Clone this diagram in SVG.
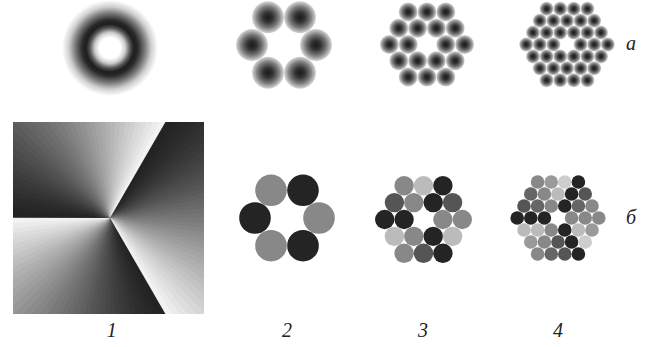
<svg xmlns="http://www.w3.org/2000/svg" xmlns:xlink="http://www.w3.org/1999/xlink" width="651" height="347" viewBox="0 0 651 347">
<style>
.lbl{font-family:"Liberation Serif","Times New Roman",serif;font-style:italic;font-size:20px;fill:#222;text-anchor:middle}
.s{fill:url(#spotG)}
.k{fill:#242424}.d{fill:#555}.e{fill:#666}.m{fill:#888}.n{fill:#9a9a9a}.l{fill:#bbb}.p{fill:#cdcdcd}
</style>
<defs>
<radialGradient id="ringG">
<stop offset="0" stop-color="#fff"/>
<stop offset="0.22" stop-color="#fff"/>
<stop offset="0.32" stop-color="#ccc"/>
<stop offset="0.42" stop-color="#555"/>
<stop offset="0.5" stop-color="#1e1e1e"/>
<stop offset="0.58" stop-color="#2a2a2a"/>
<stop offset="0.72" stop-color="#777"/>
<stop offset="0.86" stop-color="#d0d0d0"/>
<stop offset="1" stop-color="#fff"/>
</radialGradient>
<radialGradient id="spotG">
<stop offset="0" stop-color="#1a1a1a"/>
<stop offset="0.3" stop-color="#333"/>
<stop offset="0.65" stop-color="#777"/>
<stop offset="0.9" stop-color="#bbb"/>
<stop offset="1" stop-color="#dadada"/>
</radialGradient>
<clipPath id="sq"><rect x="13" y="122" width="191" height="192"/></clipPath>
<path id="w" d="M0 0 L300 0 L298.86 26.15 Z"/>
<path id="wl" d="M0 0 L300 0 L299.56 16.22 Z"/>
<g id="sector">
<use xlink:href="#w" transform="rotate(180)" fill="#232323"/>
<use xlink:href="#w" transform="rotate(183)" fill="#252525"/>
<use xlink:href="#w" transform="rotate(186)" fill="#282828"/>
<use xlink:href="#w" transform="rotate(189)" fill="#2b2b2b"/>
<use xlink:href="#w" transform="rotate(192)" fill="#2e2e2e"/>
<use xlink:href="#w" transform="rotate(195)" fill="#323232"/>
<use xlink:href="#w" transform="rotate(198)" fill="#363636"/>
<use xlink:href="#w" transform="rotate(201)" fill="#3a3a3a"/>
<use xlink:href="#w" transform="rotate(204)" fill="#3e3e3e"/>
<use xlink:href="#w" transform="rotate(207)" fill="#434343"/>
<use xlink:href="#w" transform="rotate(210)" fill="#474747"/>
<use xlink:href="#w" transform="rotate(213)" fill="#4c4c4c"/>
<use xlink:href="#w" transform="rotate(216)" fill="#505050"/>
<use xlink:href="#w" transform="rotate(219)" fill="#555"/>
<use xlink:href="#w" transform="rotate(222)" fill="#5a5a5a"/>
<use xlink:href="#w" transform="rotate(225)" fill="#606060"/>
<use xlink:href="#w" transform="rotate(228)" fill="#656565"/>
<use xlink:href="#w" transform="rotate(231)" fill="#6a6a6a"/>
<use xlink:href="#w" transform="rotate(234)" fill="#6f6f6f"/>
<use xlink:href="#w" transform="rotate(237)" fill="#757575"/>
<use xlink:href="#w" transform="rotate(240)" fill="#7a7a7a"/>
<use xlink:href="#w" transform="rotate(243)" fill="#808080"/>
<use xlink:href="#w" transform="rotate(246)" fill="#868686"/>
<use xlink:href="#w" transform="rotate(249)" fill="#8c8c8c"/>
<use xlink:href="#w" transform="rotate(252)" fill="#929292"/>
<use xlink:href="#w" transform="rotate(255)" fill="#989898"/>
<use xlink:href="#w" transform="rotate(258)" fill="#9e9e9e"/>
<use xlink:href="#w" transform="rotate(261)" fill="#a4a4a4"/>
<use xlink:href="#w" transform="rotate(264)" fill="#aaa"/>
<use xlink:href="#w" transform="rotate(267)" fill="#b0b0b0"/>
<use xlink:href="#w" transform="rotate(270)" fill="#b6b6b6"/>
<use xlink:href="#w" transform="rotate(273)" fill="#bdbdbd"/>
<use xlink:href="#w" transform="rotate(276)" fill="#c3c3c3"/>
<use xlink:href="#w" transform="rotate(279)" fill="#cacaca"/>
<use xlink:href="#w" transform="rotate(282)" fill="#d0d0d0"/>
<use xlink:href="#w" transform="rotate(285)" fill="#d7d7d7"/>
<use xlink:href="#w" transform="rotate(288)" fill="#ddd"/>
<use xlink:href="#w" transform="rotate(291)" fill="#e4e4e4"/>
<use xlink:href="#w" transform="rotate(294)" fill="#ebebeb"/>
<use xlink:href="#wl" transform="rotate(297)" fill="#f2f2f2"/>
</g>
</defs>
<rect width="651" height="347" fill="#fff"/>

<g id="ring-1a">
<circle cx="110" cy="48" r="48" fill="url(#ringG)"/>
</g>

<g id="spots-2a">
<circle class="s" cx="268" cy="17.3" r="16"/>
<circle class="s" cx="300" cy="17.3" r="16"/>
<circle class="s" cx="252" cy="45" r="16"/>
<circle class="s" cx="316" cy="45" r="16"/>
<circle class="s" cx="268" cy="72.7" r="16"/>
<circle class="s" cx="300" cy="72.7" r="16"/>
</g>

<g id="spots-3a">
<circle class="s" cx="408.2" cy="11.9" r="9.5"/>
<circle class="s" cx="427" cy="11.9" r="9.5"/>
<circle class="s" cx="445.8" cy="11.9" r="9.5"/>
<circle class="s" cx="398.8" cy="28.2" r="9.5"/>
<circle class="s" cx="417.6" cy="28.2" r="9.5"/>
<circle class="s" cx="436.4" cy="28.2" r="9.5"/>
<circle class="s" cx="455.2" cy="28.2" r="9.5"/>
<circle class="s" cx="389.4" cy="44.5" r="9.5"/>
<circle class="s" cx="408.2" cy="44.5" r="9.5"/>
<circle class="s" cx="445.8" cy="44.5" r="9.5"/>
<circle class="s" cx="464.6" cy="44.5" r="9.5"/>
<circle class="s" cx="398.8" cy="60.8" r="9.5"/>
<circle class="s" cx="417.6" cy="60.8" r="9.5"/>
<circle class="s" cx="436.4" cy="60.8" r="9.5"/>
<circle class="s" cx="455.2" cy="60.8" r="9.5"/>
<circle class="s" cx="408.2" cy="77.1" r="9.5"/>
<circle class="s" cx="427" cy="77.1" r="9.5"/>
<circle class="s" cx="445.8" cy="77.1" r="9.5"/>
</g>

<g id="spots-4a">
<circle class="s" cx="546.6" cy="8.8" r="7"/>
<circle class="s" cx="560.2" cy="8.8" r="7"/>
<circle class="s" cx="573.8" cy="8.8" r="7"/>
<circle class="s" cx="587.4" cy="8.8" r="7"/>
<circle class="s" cx="539.8" cy="20.7" r="7"/>
<circle class="s" cx="553.4" cy="20.7" r="7"/>
<circle class="s" cx="567" cy="20.7" r="7"/>
<circle class="s" cx="580.6" cy="20.7" r="7"/>
<circle class="s" cx="594.2" cy="20.7" r="7"/>
<circle class="s" cx="533" cy="32.6" r="7"/>
<circle class="s" cx="546.6" cy="32.6" r="7"/>
<circle class="s" cx="560.2" cy="32.6" r="7"/>
<circle class="s" cx="573.8" cy="32.6" r="7"/>
<circle class="s" cx="587.4" cy="32.6" r="7"/>
<circle class="s" cx="601" cy="32.6" r="7"/>
<circle class="s" cx="526.2" cy="44.5" r="7"/>
<circle class="s" cx="539.8" cy="44.5" r="7"/>
<circle class="s" cx="553.4" cy="44.5" r="7"/>
<circle class="s" cx="580.6" cy="44.5" r="7"/>
<circle class="s" cx="594.2" cy="44.5" r="7"/>
<circle class="s" cx="607.8" cy="44.5" r="7"/>
<circle class="s" cx="533" cy="56.4" r="7"/>
<circle class="s" cx="546.6" cy="56.4" r="7"/>
<circle class="s" cx="560.2" cy="56.4" r="7"/>
<circle class="s" cx="573.8" cy="56.4" r="7"/>
<circle class="s" cx="587.4" cy="56.4" r="7"/>
<circle class="s" cx="601" cy="56.4" r="7"/>
<circle class="s" cx="539.8" cy="68.3" r="7"/>
<circle class="s" cx="553.4" cy="68.3" r="7"/>
<circle class="s" cx="567" cy="68.3" r="7"/>
<circle class="s" cx="580.6" cy="68.3" r="7"/>
<circle class="s" cx="594.2" cy="68.3" r="7"/>
<circle class="s" cx="546.6" cy="80.2" r="7"/>
<circle class="s" cx="560.2" cy="80.2" r="7"/>
<circle class="s" cx="573.8" cy="80.2" r="7"/>
<circle class="s" cx="587.4" cy="80.2" r="7"/>
</g>

<g id="phase-1b" clip-path="url(#sq)">
<g transform="translate(110 218)">
<use xlink:href="#sector"/>
<use xlink:href="#sector" transform="rotate(120)"/>
<use xlink:href="#sector" transform="rotate(240)"/>
</g>
</g>

<g id="discs-2b">
<circle class="m" cx="271" cy="190.3" r="15.8"/>
<circle class="k" cx="303" cy="190.3" r="15.8"/>
<circle class="k" cx="255" cy="218" r="15.8"/>
<circle class="m" cx="319" cy="218" r="15.8"/>
<circle class="m" cx="271" cy="245.7" r="15.8"/>
<circle class="k" cx="303" cy="245.7" r="15.8"/>
</g>

<g id="discs-3b">
<circle class="m" cx="404.1" cy="185.7" r="9.7"/>
<circle class="l" cx="423.5" cy="185.7" r="9.7"/>
<circle class="k" cx="442.9" cy="185.7" r="9.7"/>
<circle class="d" cx="394.4" cy="202.6" r="9.7"/>
<circle class="m" cx="413.8" cy="202.6" r="9.7"/>
<circle class="k" cx="433.2" cy="202.6" r="9.7"/>
<circle class="d" cx="452.6" cy="202.6" r="9.7"/>
<circle class="k" cx="384.7" cy="219.5" r="9.7"/>
<circle class="k" cx="404.1" cy="219.5" r="9.7"/>
<circle class="m" cx="442.9" cy="219.5" r="9.7"/>
<circle class="m" cx="462.3" cy="219.5" r="9.7"/>
<circle class="l" cx="394.4" cy="236.4" r="9.7"/>
<circle class="m" cx="413.8" cy="236.4" r="9.7"/>
<circle class="k" cx="433.2" cy="236.4" r="9.7"/>
<circle class="l" cx="452.6" cy="236.4" r="9.7"/>
<circle class="m" cx="404.1" cy="253.3" r="9.7"/>
<circle class="d" cx="423.5" cy="253.3" r="9.7"/>
<circle class="k" cx="442.9" cy="253.3" r="9.7"/>
</g>

<g id="discs-4b">
<circle class="m" cx="537.6" cy="182" r="6.8"/>
<circle class="n" cx="551.2" cy="182" r="6.8"/>
<circle class="p" cx="564.8" cy="182" r="6.8"/>
<circle class="k" cx="578.4" cy="182" r="6.8"/>
<circle class="e" cx="530.8" cy="194" r="6.8"/>
<circle class="m" cx="544.4" cy="194" r="6.8"/>
<circle class="l" cx="558" cy="194" r="6.8"/>
<circle class="k" cx="571.6" cy="194" r="6.8"/>
<circle class="d" cx="585.2" cy="194" r="6.8"/>
<circle class="d" cx="524" cy="206" r="6.8"/>
<circle class="e" cx="537.6" cy="206" r="6.8"/>
<circle class="m" cx="551.2" cy="206" r="6.8"/>
<circle class="k" cx="564.8" cy="206" r="6.8"/>
<circle class="e" cx="578.4" cy="206" r="6.8"/>
<circle class="m" cx="592" cy="206" r="6.8"/>
<circle class="k" cx="517.2" cy="218" r="6.8"/>
<circle class="k" cx="530.8" cy="218" r="6.8"/>
<circle class="k" cx="544.4" cy="218" r="6.8"/>
<circle class="m" cx="571.6" cy="218" r="6.8"/>
<circle class="m" cx="585.2" cy="218" r="6.8"/>
<circle class="m" cx="598.8" cy="218" r="6.8"/>
<circle class="l" cx="524" cy="230" r="6.8"/>
<circle class="l" cx="537.6" cy="230" r="6.8"/>
<circle class="m" cx="551.2" cy="230" r="6.8"/>
<circle class="k" cx="564.8" cy="230" r="6.8"/>
<circle class="l" cx="578.4" cy="230" r="6.8"/>
<circle class="n" cx="592" cy="230" r="6.8"/>
<circle class="n" cx="530.8" cy="242" r="6.8"/>
<circle class="m" cx="544.4" cy="242" r="6.8"/>
<circle class="d" cx="558" cy="242" r="6.8"/>
<circle class="k" cx="571.6" cy="242" r="6.8"/>
<circle class="p" cx="585.2" cy="242" r="6.8"/>
<circle class="m" cx="537.6" cy="254" r="6.8"/>
<circle class="e" cx="551.2" cy="254" r="6.8"/>
<circle class="d" cx="564.8" cy="254" r="6.8"/>
<circle class="k" cx="578.4" cy="254" r="6.8"/>
</g>

<g id="labels">
<text class="lbl" x="631" y="50">а</text>
<text class="lbl" x="631" y="224">б</text>
<text class="lbl" x="111.7" y="337">1</text>
<text class="lbl" x="287" y="337">2</text>
<text class="lbl" x="423" y="337">3</text>
<text class="lbl" x="558" y="337">4</text>
</g>
</svg>
